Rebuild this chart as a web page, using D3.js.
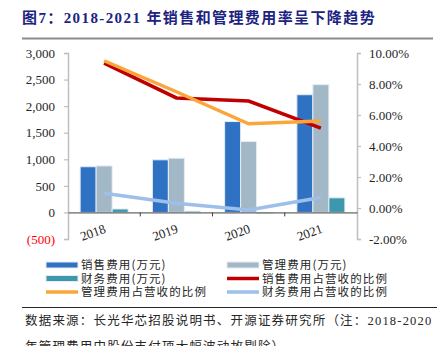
<!DOCTYPE html>
<html>
<head>
<meta charset="utf-8">
<script src="https://cdn.jsdelivr.net/npm/d3@7/dist/d3.min.js"></script>
<style>
  html, body { margin: 0; padding: 0; background: #fff; }
  svg { display: block; }
</style>
</head>
<body>
<svg id="chart" width="437" height="346"></svg>
<script>
const cjk = "\"Noto Sans CJK SC\", \"Noto Sans\", sans-serif";
const serif = "\"Liberation Serif\", \"Times New Roman\", serif";

const years = ["2018", "2019", "2020", "2021"];
// 万元
const salesCost = [860, 990, 1710, 2215];
const adminCost = [875, 1020, 1335, 2405];
const financeCost = [65, 25, -20, 275];
// % of revenue
const salesRatio = [9.35, 7.1, 6.9, 5.15];
const adminRatio = [9.5, 7.5, 5.43, 5.62];
const financeRatio = [0.95, 0.3, -0.13, 0.68];

const leftTicks = [-500, 0, 500, 1000, 1500, 2000, 2500, 3000];
const rightTicks = [-2, 0, 2, 4, 6, 8, 10];

const barSeries = [
  { name: "销售费用(万元)", values: salesCost, color: "#2f72c4" },
  { name: "管理费用(万元)", values: adminCost, color: "#a2b8c6" },
  { name: "财务费用(万元)", values: financeCost, color: "#3d97ad" }
];
const lineSeries = [
  { name: "销售费用占营收的比例", values: salesRatio, color: "#c00000" },
  { name: "管理费用占营收的比例", values: adminRatio, color: "#fba63a" },
  { name: "财务费用占营收的比例", values: financeRatio, color: "#9dbfea" }
];

const svg = d3.select("#chart");

// title
svg.append("text")
  .attr("x", 22).attr("y", 23)
  .attr("fill", "#1c2380")
  .attr("font-family", serif + ", " + cjk)
  .attr("font-weight", "bold")
  .attr("font-size", 15)
  .attr("letter-spacing", 1.4)
  .text("图7：2018-2021 年销售和管理费用率呈下降趋势");
svg.append("line")
  .attr("x1", 22).attr("x2", 433).attr("y1", 38.5).attr("y2", 38.5)
  .attr("stroke", "#8c8c8c").attr("stroke-width", 2);

const plotTop = 53, plotBottom = 239, plotLeft = 68, plotRight = 357;

const x = d3.scaleBand().domain(years).range([plotLeft, plotRight]);
const groupW = 48;
const xs = d3.scaleBand().domain([0, 1, 2])
  .range([(x.bandwidth() - groupW) / 2, (x.bandwidth() + groupW) / 2]);
const yL = d3.scaleLinear().domain([-500, 3000]).range([plotBottom, plotTop]);
const yR = d3.scaleLinear().domain([-2, 10]).range([plotBottom, plotTop]);

// left axis
const axL = svg.append("g")
  .attr("transform", `translate(${plotLeft},0)`)
  .call(d3.axisLeft(yL).tickValues(leftTicks).tickSize(4).tickPadding(9)
    .tickFormat(d => d < 0 ? "(" + d3.format(",")(-d) + ")" : d3.format(",")(d)));
axL.select(".domain").attr("stroke", "#bfbfbf").attr("stroke-width", 1.5);
axL.selectAll(".tick line").attr("stroke", "#bfbfbf").attr("stroke-width", 1.2);
axL.selectAll(".tick text")
  .attr("font-family", serif).attr("font-size", 13)
  .attr("fill", d => d < 0 ? "#ff0000" : "#262626");

// right axis
const axR = svg.append("g")
  .attr("transform", `translate(${plotRight},0)`)
  .call(d3.axisRight(yR).tickValues(rightTicks).tickSize(4).tickPadding(8)
    .tickFormat(d => d.toFixed(2) + "%"));
axR.select(".domain").attr("stroke", "#bfbfbf").attr("stroke-width", 1.5);
axR.selectAll(".tick line").attr("stroke", "#bfbfbf").attr("stroke-width", 1.2);
axR.selectAll(".tick text")
  .attr("font-family", serif).attr("font-size", 13).attr("fill", "#262626");

// bars
barSeries.forEach((s, i) => {
  svg.append("g").selectAll("rect")
    .data(s.values)
    .join("rect")
    .attr("x", (d, j) => x(years[j]) + xs(i))
    .attr("width", xs.bandwidth())
    .attr("y", d => yL(Math.max(0, d)))
    .attr("height", d => Math.abs(yL(d) - yL(0)))
    .attr("fill", s.color)
    .attr("stroke", "#e6ecf2")
    .attr("stroke-width", 1);
});

// category axis on zero line
const axX = svg.append("g")
  .attr("transform", `translate(0,${yL(0)})`)
  .call(d3.axisBottom(x).tickSize(0).tickFormat(""));
axX.select(".domain").attr("stroke", "#404040").attr("stroke-width", 1);
axX.selectAll(".sep")
  .data(years.slice(1))
  .join("line")
  .attr("x1", d => x(d)).attr("x2", d => x(d))
  .attr("y1", 0).attr("y2", 4)
  .attr("stroke", "#404040");

svg.append("g").selectAll("text")
  .data(years)
  .join("text")
  .attr("transform", d => `translate(${x(d) + x.bandwidth() / 2 - 1},${yL(0) + 10}) rotate(-20)`)
  .attr("text-anchor", "end")
  .attr("dy", "0.8em")
  .attr("font-family", serif).attr("font-size", 13).attr("fill", "#262626")
  .text(d => d);

// ratio lines
const line = d3.line()
  .x((d, j) => x(years[j]) + x.bandwidth() / 2)
  .y(d => yR(d));
lineSeries.forEach(s => {
  svg.append("path")
    .datum(s.values)
    .attr("d", line)
    .attr("fill", "none")
    .attr("stroke", s.color)
    .attr("stroke-width", 3.5)
    .attr("stroke-linejoin", "miter");
});

// legend
const legendItems = [
  { s: barSeries[0], type: "bar" }, { s: barSeries[1], type: "bar" },
  { s: barSeries[2], type: "bar" }, { s: lineSeries[0], type: "line" },
  { s: lineSeries[1], type: "line" }, { s: lineSeries[2], type: "line" }
];
const legendX = [46, 227], legendY = [265, 278.5, 292];
const lg = svg.append("g")
  .selectAll("g")
  .data(legendItems)
  .join("g")
  .attr("transform", (d, i) => `translate(${legendX[i % 2]},${legendY[Math.floor(i / 2)]})`);
lg.filter(d => d.type === "bar").append("rect")
  .attr("x", 0).attr("y", -3).attr("width", 32).attr("height", 6)
  .attr("fill", d => d.s.color).attr("stroke", "#e6ecf2");
lg.filter(d => d.type === "line").append("line")
  .attr("x1", 0).attr("x2", 32).attr("y1", 0).attr("y2", 0)
  .attr("stroke", d => d.s.color).attr("stroke-width", 3.5);
lg.append("text")
  .attr("x", 35).attr("dy", "0.36em")
  .attr("font-family", cjk).attr("font-size", 11.5)
  .attr("letter-spacing", 1.1)
  .attr("fill", "#262626")
  .text(d => d.s.name);

// source note
svg.append("line")
  .attr("x1", 22).attr("x2", 437).attr("y1", 307.5).attr("y2", 307.5)
  .attr("stroke", "#262626").attr("stroke-width", 1);
svg.append("text")
  .attr("x", 25).attr("y", 325)
  .attr("font-family", serif + ", " + cjk).attr("font-size", 12.5)
  .attr("letter-spacing", 1.2)
  .attr("fill", "#262626")
  .text("数据来源：长光华芯招股说明书、开源证券研究所（注：2018-2020");
svg.append("text")
  .attr("x", 25).attr("y", 351)
  .attr("font-family", serif + ", " + cjk).attr("font-size", 12.5)
  .attr("letter-spacing", 1.2)
  .attr("fill", "#262626")
  .text("年管理费用中股份支付项大幅波动故剔除）");
</script>
</body>
</html>
